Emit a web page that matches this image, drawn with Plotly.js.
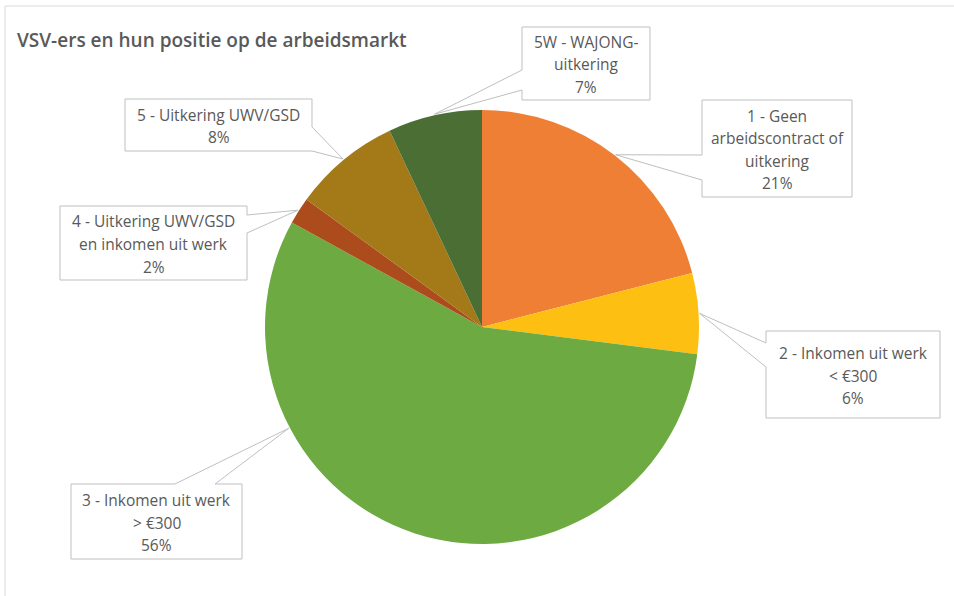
<!DOCTYPE html>
<html>
<head>
<meta charset="utf-8">
<script src="https://cdn.plot.ly/plotly-3.0.1.min.js"></script>
<style>html,body{margin:0;padding:0;background:#fff;}#chart{width:954px;height:596px;}</style>
</head>
<body>
<div id="chart"></div>
<script>
// ---- data ----
const categories = ['1', '2', '3', '4', '5', '5W'];
const labelLines = [
  ['1 - Geen', 'arbeidscontract of', 'uitkering'],
  ['2 - Inkomen uit werk', '< €300'],
  ['3 - Inkomen uit werk', '> €300'],
  ['4 - Uitkering UWV/GSD', 'en inkomen uit werk'],
  ['5 - Uitkering UWV/GSD'],
  ['5W - WAJONG-', 'uitkering']
];
const values = [21, 6, 56, 2, 8, 7];
const colors = ['#EE7F35', '#FDBF12', '#6DAB42', '#AC4B1C', '#A37A17', '#4A6E34'];
const chartTitle = 'VSV-ers en hun positie op de arbeidsmarkt';

// ---- layout / style ----
const W = 954, H = 596;
const CX = 482, CY = 327, R = 217;
// callout boxes [x0, y0, x1, y1] in pixels, tail side and base, leader anchor fraction in slice
const boxes = [[702,100,852,197],[766,331,940,418],[71,484,242,559],[60,206,247,280],[125,99,312,151],[522,27,650,100]];
const tails = [['left',155,180],['left',343,367],['top',175,215],['right',215,233],['right',127,151],['left',70,90]];
const anchorFrac = [0.5, 0.5, 0.72, 0.5, 0.5, 0.5];
const lineGap = 22.5;

const px = x => x / W;
const py = y => 1 - y / H;
const pt = (x, y) => px(x).toFixed(5) + ',' + py(y).toFixed(5);

const total = values.reduce((a, b) => a + b, 0);
let cum = 0;
const shapes = [];
const annotations = [];

// chart frame
shapes.push({type: 'rect', xref: 'paper', yref: 'paper', x0: px(5), y0: py(6), x1: 1.02, y1: -0.02,
  line: {color: '#D9D9D9', width: 1}, fillcolor: 'rgba(0,0,0,0)', layer: 'below'});

values.forEach((v, i) => {
  const a = (cum + anchorFrac[i] * v) / total * 2 * Math.PI;
  cum += v;
  const vx = CX + (R + 1) * Math.sin(a), vy = CY - (R + 1) * Math.cos(a);
  const [x0, y0, x1, y1] = boxes[i];
  const [side, b1, b2] = tails[i];
  let pts;
  if (side === 'left') pts = [[x0,y0],[x1,y0],[x1,y1],[x0,y1],[x0,b2],[vx,vy],[x0,b1]];
  else if (side === 'right') pts = [[x0,y0],[x1,y0],[x1,b1],[vx,vy],[x1,b2],[x1,y1],[x0,y1]];
  else if (side === 'top') pts = [[x0,y0],[b1,y0],[vx,vy],[b2,y0],[x1,y0],[x1,y1],[x0,y1]];
  else pts = [[x0,y0],[x1,y0],[x1,y1],[b2,y1],[vx,vy],[b1,y1],[x0,y1]];
  const path = 'M' + pts.map(p => pt(p[0], p[1])).join(' L') + ' Z';
  shapes.push({type: 'path', xref: 'paper', yref: 'paper', path: path,
    line: {color: '#BFBFBF', width: 1}, fillcolor: '#FFFFFF', layer: 'above'});

  const lines = labelLines[i].concat([Math.round(v / total * 100) + '%']);
  const cxBox = (x0 + x1) / 2, cyBox = (y0 + y1) / 2 + 1;
  lines.forEach((t, k) => {
    const ly = cyBox + (k - (lines.length - 1) / 2) * lineGap;
    annotations.push({xref: 'paper', yref: 'paper', x: px(cxBox), y: py(ly),
      xanchor: 'center', yanchor: 'middle', showarrow: false, text: t,
      font: {family: 'Open Sans, sans-serif', size: 15.5, color: '#595959'}});
  });
});

annotations.push({xref: 'paper', yref: 'paper', x: px(15), y: py(40), xanchor: 'left', yanchor: 'middle',
  showarrow: false, text: chartTitle,
  font: {family: 'Open Sans, sans-serif', size: 19, color: '#595959', weight: 600}});

const trace = {
  type: 'pie',
  labels: categories,
  values: values,
  sort: false,
  direction: 'clockwise',
  rotation: 0,
  textinfo: 'none',
  hoverinfo: 'label+percent',
  marker: {colors: colors, line: {width: 0}},
  domain: {x: [px(CX - R), px(CX + R)], y: [py(CY + R), py(CY - R)]}
};

Plotly.newPlot('chart', [trace], {
  width: W, height: H,
  margin: {l: 0, r: 0, t: 0, b: 0},
  showlegend: false,
  paper_bgcolor: '#FFFFFF',
  shapes: shapes,
  annotations: annotations
}, {displayModeBar: false, staticPlot: true});
</script>
</body>
</html>
